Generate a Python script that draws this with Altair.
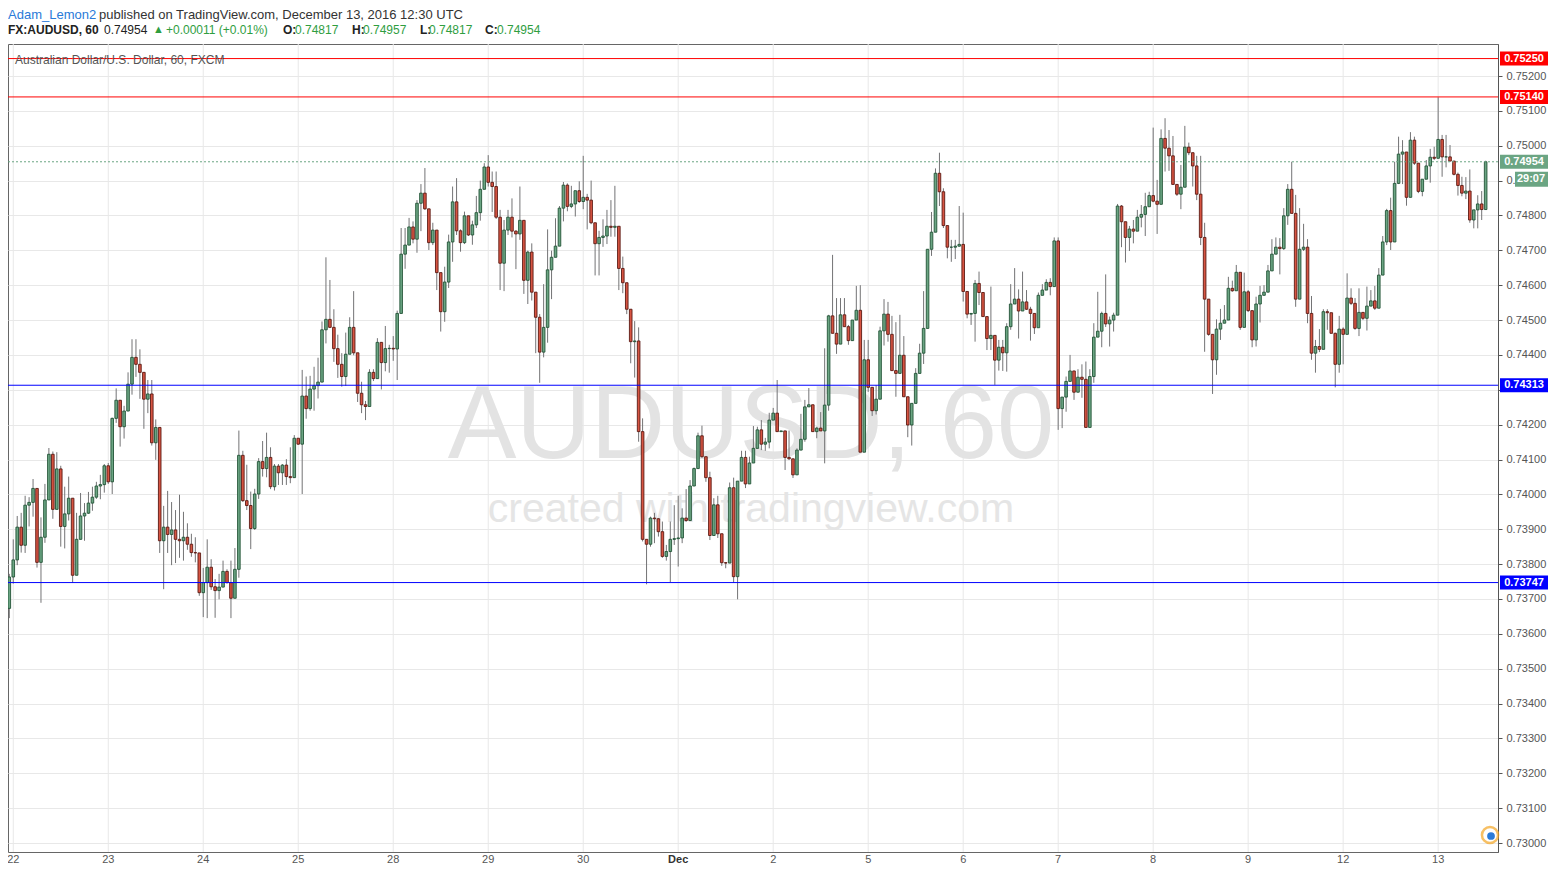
import altair as alt
import numpy as np
import pandas as pd

# ---------------- data ----------------
first_open = 0.73673
closes = [
    0.73763, 0.73812, 0.73906, 0.73854, 0.73969, 0.73977, 0.74017, 0.73805, 0.73877, 0.73984,
    0.74115, 0.73957, 0.74073, 0.73908, 0.73944, 0.73989, 0.73768, 0.73871, 0.73938, 0.73946,
    0.73975, 0.73992, 0.74024, 0.74028, 0.74082, 0.74036, 0.74218, 0.74270, 0.74194, 0.74239,
    0.74316, 0.74393, 0.74373, 0.74350, 0.74273, 0.74288, 0.74148, 0.74192, 0.73867, 0.73906,
    0.73885, 0.73898, 0.73871, 0.73867, 0.73877, 0.73857, 0.73833, 0.73832, 0.73718, 0.73747,
    0.73791, 0.73735, 0.73724, 0.73734, 0.73779, 0.73747, 0.73702, 0.73785, 0.74112, 0.73982,
    0.73968, 0.73902, 0.74001, 0.74094, 0.74074, 0.74106, 0.74022, 0.74081, 0.74062, 0.74084,
    0.74051, 0.74048, 0.74161, 0.74144, 0.74282, 0.74246, 0.74302, 0.74312, 0.74322, 0.74472,
    0.74502, 0.74479, 0.74418, 0.74373, 0.74338, 0.74402, 0.74479, 0.74406, 0.74290, 0.74257,
    0.74252, 0.74350, 0.74332, 0.74436, 0.74378, 0.74418, 0.74419, 0.74417, 0.74519, 0.74689,
    0.74715, 0.74767, 0.74732, 0.74835, 0.74864, 0.74819, 0.74722, 0.74758, 0.74636, 0.74524,
    0.74609, 0.74724, 0.74839, 0.74756, 0.74722, 0.74799, 0.74744, 0.74773, 0.74808, 0.74875,
    0.74939, 0.74895, 0.74883, 0.74795, 0.74663, 0.74758, 0.74795, 0.74755, 0.74747, 0.74786,
    0.74614, 0.74695, 0.74580, 0.74508, 0.74408, 0.74479, 0.74644, 0.74680, 0.74712, 0.74821,
    0.74887, 0.74826, 0.74833, 0.74871, 0.74840, 0.74852, 0.74844, 0.74779, 0.74719, 0.74737,
    0.74741, 0.74769, 0.74766, 0.74769, 0.74648, 0.74607, 0.74531, 0.74438, 0.74440, 0.74180,
    0.73871, 0.73857, 0.73932, 0.73930, 0.73893, 0.73822, 0.73836, 0.73871, 0.73873, 0.73875,
    0.73932, 0.73925, 0.74024, 0.74074, 0.74168, 0.74108, 0.74048, 0.73882, 0.73970, 0.73887,
    0.73804, 0.73803, 0.74019, 0.73764, 0.74038, 0.74106, 0.74030, 0.74090, 0.74132, 0.74185,
    0.74144, 0.74150, 0.74213, 0.74233, 0.74180, 0.74182, 0.74106, 0.74102, 0.74056, 0.74127,
    0.74158, 0.74251, 0.74257, 0.74180, 0.74190, 0.74182, 0.74256, 0.74512, 0.74462, 0.74431,
    0.74515, 0.74481, 0.74441, 0.74500, 0.74528, 0.74121, 0.74386, 0.74307, 0.74240, 0.74273,
    0.74469, 0.74517, 0.74459, 0.74355, 0.74347, 0.74399, 0.74280, 0.74199, 0.74261, 0.74347,
    0.74405, 0.74476, 0.74703, 0.74752, 0.74921, 0.74868, 0.74771, 0.74709, 0.74709, 0.74712,
    0.74717, 0.74582, 0.74517, 0.74519, 0.74605, 0.74579, 0.74510, 0.74447, 0.74456, 0.74385,
    0.74422, 0.74406, 0.74481, 0.74546, 0.74560, 0.74526, 0.74552, 0.74531, 0.74519, 0.74478,
    0.74571, 0.74586, 0.74608, 0.74596, 0.74727, 0.74246, 0.74279, 0.74324, 0.74354, 0.74293,
    0.74336, 0.74330, 0.74192, 0.74338, 0.74451, 0.74468, 0.74519, 0.74489, 0.74500, 0.74514,
    0.74827, 0.74782, 0.74737, 0.74761, 0.74755, 0.74795, 0.74803, 0.74825, 0.74857, 0.74841,
    0.74832, 0.75021, 0.74993, 0.74971, 0.74889, 0.74861, 0.74881, 0.74996, 0.74980, 0.74942,
    0.74861, 0.74737, 0.74560, 0.74459, 0.74386, 0.74474, 0.74491, 0.74500, 0.74591, 0.74584,
    0.74637, 0.74479, 0.74581, 0.74527, 0.74443, 0.74546, 0.74571, 0.74580, 0.74641, 0.74689,
    0.74709, 0.74705, 0.74799, 0.74875, 0.74806, 0.74560, 0.74703, 0.74709, 0.74519, 0.74405,
    0.74424, 0.74416, 0.74524, 0.74521, 0.74462, 0.74373, 0.74474, 0.74459, 0.74563, 0.74548,
    0.74476, 0.74522, 0.74505, 0.74540, 0.74555, 0.74534, 0.74629, 0.74724, 0.74814, 0.74724,
    0.74892, 0.74976, 0.74982, 0.74852, 0.75016, 0.74950, 0.74869, 0.74904, 0.74942, 0.74967,
    0.74964, 0.75018, 0.74968, 0.74968, 0.74956, 0.74918, 0.74886, 0.74864, 0.74870, 0.74787,
    0.74816, 0.74833, 0.74817, 0.74954,
]
highs = [
    0.73772, 0.73871, 0.73938, 0.73947, 0.73996, 0.73992, 0.74044, 0.74017, 0.73934, 0.74030,
    0.74133, 0.74123, 0.74121, 0.74082, 0.74022, 0.74051, 0.73989, 0.73947, 0.74004, 0.73975,
    0.74007, 0.74022, 0.74036, 0.74056, 0.74087, 0.74090, 0.74220, 0.74304, 0.74270, 0.74254,
    0.74350, 0.74445, 0.74445, 0.74416, 0.74350, 0.74328, 0.74328, 0.74215, 0.74192, 0.73967,
    0.74010, 0.73978, 0.73955, 0.73999, 0.73950, 0.73917, 0.73887, 0.73877, 0.73832, 0.73789,
    0.73871, 0.73814, 0.73757, 0.73772, 0.73810, 0.73785, 0.73810, 0.73846, 0.74183, 0.74125,
    0.74085, 0.74008, 0.74016, 0.74104, 0.74153, 0.74177, 0.74135, 0.74087, 0.74087, 0.74087,
    0.74101, 0.74135, 0.74170, 0.74161, 0.74357, 0.74338, 0.74340, 0.74366, 0.74392, 0.74496,
    0.74680, 0.74615, 0.74531, 0.74458, 0.74405, 0.74464, 0.74508, 0.74583, 0.74406, 0.74323,
    0.74268, 0.74359, 0.74359, 0.74448, 0.74437, 0.74483, 0.74429, 0.74454, 0.74527, 0.74764,
    0.74764, 0.74793, 0.74783, 0.74844, 0.74890, 0.74936, 0.74819, 0.74779, 0.74758, 0.74636,
    0.74653, 0.74745, 0.74883, 0.74907, 0.74760, 0.74811, 0.74799, 0.74785, 0.74856, 0.74900,
    0.74950, 0.74973, 0.74926, 0.74926, 0.74816, 0.74787, 0.74816, 0.74849, 0.74758, 0.74883,
    0.74786, 0.74699, 0.74720, 0.74580, 0.74517, 0.74603, 0.74760, 0.74699, 0.74792, 0.74827,
    0.74896, 0.74892, 0.74885, 0.74871, 0.74898, 0.74971, 0.74862, 0.74900, 0.74779, 0.74756,
    0.74789, 0.74816, 0.74844, 0.74885, 0.74769, 0.74682, 0.74607, 0.74531, 0.74497, 0.74479,
    0.74218, 0.73871, 0.73936, 0.73947, 0.73932, 0.73922, 0.73855, 0.73922, 0.73969, 0.73996,
    0.73960, 0.74015, 0.74041, 0.74077, 0.74177, 0.74197, 0.74108, 0.74065, 0.73989, 0.73996,
    0.73887, 0.73806, 0.74034, 0.74048, 0.74038, 0.74125, 0.74125, 0.74108, 0.74196, 0.74194,
    0.74213, 0.74162, 0.74234, 0.74248, 0.74328, 0.74182, 0.74182, 0.74183, 0.74102, 0.74132,
    0.74231, 0.74271, 0.74305, 0.74257, 0.74194, 0.74236, 0.74419, 0.74515, 0.74687, 0.74563,
    0.74563, 0.74563, 0.74486, 0.74500, 0.74598, 0.74600, 0.74443, 0.74443, 0.74307, 0.74313,
    0.74481, 0.74560, 0.74552, 0.74512, 0.74494, 0.74515, 0.74454, 0.74280, 0.74261, 0.74362,
    0.74432, 0.74583, 0.74703, 0.74810, 0.74935, 0.74980, 0.74878, 0.74771, 0.74730, 0.74730,
    0.74827, 0.74808, 0.74582, 0.74520, 0.74615, 0.74639, 0.74579, 0.74510, 0.74596, 0.74456,
    0.74443, 0.74443, 0.74491, 0.74603, 0.74649, 0.74588, 0.74639, 0.74586, 0.74538, 0.74519,
    0.74579, 0.74603, 0.74617, 0.74620, 0.74737, 0.74737, 0.74279, 0.74338, 0.74400, 0.74354,
    0.74359, 0.74373, 0.74381, 0.74359, 0.74491, 0.74581, 0.74524, 0.74631, 0.74510, 0.74521,
    0.74833, 0.74830, 0.74782, 0.74770, 0.74787, 0.74816, 0.74830, 0.74865, 0.74868, 0.75052,
    0.74902, 0.75047, 0.75079, 0.75045, 0.75028, 0.74889, 0.74945, 0.75057, 0.75009, 0.74980,
    0.74971, 0.74971, 0.74779, 0.74560, 0.74459, 0.74502, 0.74532, 0.74543, 0.74624, 0.74613,
    0.74658, 0.74637, 0.74636, 0.74586, 0.74527, 0.74567, 0.74598, 0.74600, 0.74658, 0.74732,
    0.74737, 0.74735, 0.74821, 0.74890, 0.74954, 0.74859, 0.74821, 0.74776, 0.74732, 0.74569,
    0.74443, 0.74474, 0.74531, 0.74531, 0.74521, 0.74464, 0.74512, 0.74479, 0.74634, 0.74591,
    0.74563, 0.74591, 0.74522, 0.74596, 0.74586, 0.74598, 0.74649, 0.74741, 0.74819, 0.74851,
    0.74954, 0.75026, 0.75016, 0.74982, 0.75039, 0.75026, 0.74950, 0.74904, 0.74959, 0.74991,
    0.74997, 0.75139, 0.75031, 0.75031, 0.75002, 0.74956, 0.74923, 0.74911, 0.74910, 0.74932,
    0.74816, 0.74858, 0.74870, 0.74957,
]
lows = [
    0.73645, 0.73744, 0.73797, 0.73833, 0.73832, 0.73908, 0.73936, 0.73790, 0.73689, 0.73861,
    0.73984, 0.73930, 0.73957, 0.73850, 0.73845, 0.73925, 0.73746, 0.73768, 0.73871, 0.73867,
    0.73944, 0.73953, 0.73987, 0.73986, 0.74005, 0.74030, 0.74001, 0.74205, 0.74137, 0.74160,
    0.74239, 0.74286, 0.74337, 0.74274, 0.74188, 0.74233, 0.74140, 0.74099, 0.73832, 0.73728,
    0.73832, 0.73797, 0.73803, 0.73818, 0.73810, 0.73841, 0.73821, 0.73805, 0.73709, 0.73648,
    0.73645, 0.73726, 0.73646, 0.73699, 0.73734, 0.73744, 0.73645, 0.73702, 0.73761, 0.73978,
    0.73955, 0.73843, 0.73898, 0.73987, 0.74051, 0.74049, 0.74015, 0.74011, 0.74027, 0.74027,
    0.74027, 0.74032, 0.74047, 0.74142, 0.74001, 0.74217, 0.74240, 0.74240, 0.74275, 0.74322,
    0.74433, 0.74477, 0.74380, 0.74334, 0.74309, 0.74311, 0.74402, 0.74399, 0.74265, 0.74233,
    0.74213, 0.74252, 0.74325, 0.74332, 0.74301, 0.74353, 0.74349, 0.74383, 0.74328, 0.74519,
    0.74647, 0.74715, 0.74720, 0.74693, 0.74755, 0.74816, 0.74701, 0.74715, 0.74586, 0.74467,
    0.74495, 0.74592, 0.74667, 0.74744, 0.74696, 0.74718, 0.74741, 0.74716, 0.74764, 0.74785,
    0.74875, 0.74883, 0.74810, 0.74790, 0.74586, 0.74583, 0.74744, 0.74737, 0.74646, 0.74730,
    0.74575, 0.74546, 0.74556, 0.74405, 0.74320, 0.74393, 0.74435, 0.74560, 0.74680, 0.74712,
    0.74783, 0.74812, 0.74821, 0.74797, 0.74836, 0.74818, 0.74760, 0.74775, 0.74628, 0.74628,
    0.74710, 0.74718, 0.74739, 0.74739, 0.74586, 0.74577, 0.74517, 0.74376, 0.74335, 0.74151,
    0.73865, 0.73742, 0.73850, 0.73860, 0.73879, 0.73818, 0.73810, 0.73748, 0.73855, 0.73793,
    0.73860, 0.73921, 0.73925, 0.74024, 0.74074, 0.74105, 0.74036, 0.73869, 0.73882, 0.73875,
    0.73795, 0.73788, 0.73803, 0.73746, 0.73699, 0.74038, 0.74018, 0.74030, 0.74090, 0.74132,
    0.74127, 0.74125, 0.74132, 0.74213, 0.74180, 0.74179, 0.74070, 0.74099, 0.74047, 0.74056,
    0.74127, 0.74151, 0.74251, 0.74179, 0.74161, 0.74182, 0.74089, 0.74240, 0.74462, 0.74403,
    0.74431, 0.74481, 0.74429, 0.74441, 0.74500, 0.74121, 0.74121, 0.74294, 0.74225, 0.74229,
    0.74273, 0.74427, 0.74438, 0.74355, 0.74280, 0.74347, 0.74280, 0.74164, 0.74140, 0.74261,
    0.74347, 0.74374, 0.74476, 0.74684, 0.74752, 0.74827, 0.74764, 0.74677, 0.74667, 0.74675,
    0.74710, 0.74553, 0.74505, 0.74486, 0.74438, 0.74543, 0.74510, 0.74414, 0.74414, 0.74314,
    0.74355, 0.74354, 0.74352, 0.74472, 0.74546, 0.74447, 0.74526, 0.74529, 0.74441, 0.74460,
    0.74478, 0.74571, 0.74586, 0.74571, 0.74596, 0.74185, 0.74190, 0.74237, 0.74324, 0.74271,
    0.74293, 0.74277, 0.74192, 0.74192, 0.74320, 0.74451, 0.74422, 0.74480, 0.74424, 0.74467,
    0.74514, 0.74709, 0.74665, 0.74698, 0.74720, 0.74755, 0.74766, 0.74741, 0.74825, 0.74838,
    0.74747, 0.74832, 0.74926, 0.74928, 0.74889, 0.74856, 0.74818, 0.74881, 0.74973, 0.74883,
    0.74844, 0.74715, 0.74409, 0.74455, 0.74288, 0.74343, 0.74443, 0.74491, 0.74500, 0.74581,
    0.74584, 0.74472, 0.74479, 0.74523, 0.74422, 0.74424, 0.74493, 0.74571, 0.74580, 0.74641,
    0.74689, 0.74631, 0.74701, 0.74773, 0.74806, 0.74538, 0.74560, 0.74698, 0.74491, 0.74386,
    0.74349, 0.74408, 0.74416, 0.74472, 0.74462, 0.74307, 0.74349, 0.74373, 0.74459, 0.74543,
    0.74472, 0.74454, 0.74500, 0.74470, 0.74540, 0.74529, 0.74535, 0.74629, 0.74715, 0.74701,
    0.74724, 0.74890, 0.74890, 0.74828, 0.74852, 0.74945, 0.74864, 0.74855, 0.74904, 0.74894,
    0.74959, 0.74964, 0.74911, 0.74938, 0.74956, 0.74915, 0.74857, 0.74855, 0.74847, 0.74779,
    0.74763, 0.74763, 0.74787, 0.74817,
]

day_labels = ["22", "23", "24", "25", "28", "29", "30", "Dec",
              "2", "5", "6", "7", "8", "9", "12", "13"]
day_bars = [1, 25, 49, 73, 97, 121, 145, 169, 193, 217, 241, 265, 289, 313, 337, 361]

price_ticks = [0.730, 0.731, 0.732, 0.733, 0.734, 0.735, 0.736, 0.737, 0.738, 0.739,
               0.740, 0.741, 0.742, 0.743, 0.744, 0.745, 0.746, 0.747, 0.748, 0.749,
               0.750, 0.751, 0.752]

level_prices = [0.75250, 0.75140, 0.74313, 0.73747]
level_names = ["0.75250", "0.75140", "0.74313", "0.73747"]
level_colors = ["#ff0000", "#ff0000", "#0000ff", "#0000ff"]
last_price = 0.74954
countdown = "29:07"

# ---------------- table ----------------
n = min(len(closes), len(highs), len(lows))
closes, highs, lows = closes[:n], highs[:n], lows[:n]
opens = [first_open] + closes[:-1]
df = pd.DataFrame({"i": list(range(n)), "open": opens, "close": closes,
                   "high": highs, "low": lows})
df["high"] = df[["high", "open", "close"]].max(axis=1)
df["low"] = df[["low", "open", "close"]].min(axis=1)
df["dir"] = np.where(df["close"] >= df["open"], "up", "down")

days = pd.DataFrame({"i": day_bars, "label": day_labels})
levels = pd.DataFrame({"price": level_prices, "label": level_names, "c": level_colors})
lastdf = pd.DataFrame({"price": [last_price], "label": [f"{last_price:.5f}"], "cd": [countdown]})

W, H = 1490, 808
FONT = "Liberation Sans"
xs = alt.Scale(domain=[-0.33, 376.12], nice=False, zero=False, padding=0)
ys = alt.Scale(domain=[0.729742, 0.752918], nice=False, zero=False, padding=0)
# tick labels that sit under the price boxes: 0.743 is fully hidden, 0.749 shows only "0."
yax = alt.Axis(orient="right", values=price_ticks, format=".5f", grid=True,
               gridColor="#e8e8e8", gridWidth=1, domainColor="#555555",
               tickColor="#555555", tickSize=4, labelPadding=4,
               labelColor="#555555", labelFontSize=11, labelFont=FONT,
               labelExpr="abs(datum.value - 0.743) < 0.0001 ? '' : (abs(datum.value - 0.749) < 0.0001 ? '0.' : datum.label)",
               title=None, labelOverlap=False, labelFlush=False)
X = lambda f: alt.X(f, scale=xs, axis=None)
Y = lambda f: alt.Y(f, scale=ys, axis=yax)

one = pd.DataFrame({"k": [0]})


def txt(s, x, y, color="#333333", size=13, weight="normal", align="left", font=FONT):
    return alt.Chart(one).mark_text(
        align=align, baseline="middle", fontSize=size, fontWeight=weight,
        color=color, font=font
    ).encode(x=alt.value(x), y=alt.value(y), text=alt.value(s))


vgrid = alt.Chart(days).mark_rule(color="#e8e8e8", strokeWidth=1).encode(x=X("i:Q"))

wm1 = txt("AUDUSD, 60", W / 2 - 2, 383, color="#e3e3e3", size=103, align="center")
wm2 = txt("created with tradingview.com", W / 2 - 2, 466, color="#e5e5e5", size=41, align="center")

wicks = alt.Chart(df).mark_rule(color="#737375", strokeWidth=1).encode(
    x=X("i:Q"), y=Y("low:Q"), y2="high:Q")

bodies = alt.Chart(df).mark_bar(size=2.6, strokeWidth=0.9).encode(
    x=X("i:Q"), y=Y("open:Q"), y2="close:Q",
    fill=alt.Fill("dir:N", scale=alt.Scale(domain=["up", "down"], range=["#6ba583", "#d75442"]), legend=None),
    stroke=alt.Stroke("dir:N", scale=alt.Scale(domain=["up", "down"], range=["#225437", "#5b1a13"]), legend=None),
)

lvl_rules = alt.Chart(levels).mark_rule(strokeWidth=1).encode(
    y=Y("price:Q"), color=alt.Color("c:N", scale=None))

last_rule = alt.Chart(lastdf).mark_rule(strokeWidth=1, strokeDash=[2, 2], color="#6ba583").encode(
    y=Y("price:Q"))

lvl_boxes = alt.Chart(levels).mark_rect(yOffset=-7, y2Offset=7).encode(
    x=alt.value(W + 2), x2=alt.value(W + 51), y=Y("price:Q"), y2="price:Q",
    color=alt.Color("c:N", scale=None))
lvl_text = alt.Chart(levels).mark_text(color="white", fontWeight="bold", fontSize=11,
                                       font=FONT, align="center", baseline="middle").encode(
    x=alt.value(W + 26), y=Y("price:Q"), text="label:N")

last_box = alt.Chart(lastdf).mark_rect(yOffset=-7, y2Offset=7, color="#6ba583").encode(
    x=alt.value(W + 2), x2=alt.value(W + 51), y=Y("price:Q"), y2="price:Q")
last_text = alt.Chart(lastdf).mark_text(color="white", fontWeight="bold", fontSize=11,
                                        font=FONT, align="center", baseline="middle").encode(
    x=alt.value(W + 26), y=Y("price:Q"), text="label:N")
cd_box = alt.Chart(lastdf).mark_rect(yOffset=10, y2Offset=25, color="#6ba583").encode(
    x=alt.value(W + 17), x2=alt.value(W + 51), y=Y("price:Q"), y2="price:Q")
cd_text = alt.Chart(lastdf).mark_text(color="white", fontWeight="bold", fontSize=11, dy=17,
                                      font=FONT, align="center", baseline="middle").encode(
    x=alt.value(W + 33), y=Y("price:Q"), text="cd:N")

day_txt = alt.Chart(days[days["label"] != "Dec"]).mark_text(
    fontSize=11, color="#555555", font=FONT, baseline="middle", align="center").encode(
    x=X("i:Q"), y=alt.value(H + 8), text="label:N")
dec_txt = alt.Chart(days[days["label"] == "Dec"]).mark_text(
    fontSize=11, color="#333333", fontWeight="bold", font=FONT, baseline="middle", align="center").encode(
    x=X("i:Q"), y=alt.value(H + 8), text="label:N")

sym = txt("Australian Dollar/U.S. Dollar, 60, FXCM", 7, 16, color="#555555", size=12)

logo_ring = alt.Chart(one).mark_point(shape="circle", size=260, filled=False,
                                      stroke="#f5a623", strokeWidth=2.5).encode(
    x=alt.value(W - 8), y=alt.value(H - 17))
logo_dot = alt.Chart(one).mark_point(shape="circle", size=60, filled=True,
                                     color="#2a7ad8", opacity=1).encode(
    x=alt.value(W - 7), y=alt.value(H - 16))

GREEN = "#2f9e3f"
L1, L2 = -29, -14
hdr = [
    txt("Adam_Lemon2", 0, L1, color="#2a7ad8", size=13),
    txt("published on TradingView.com, December 13, 2016 12:30 UTC", 91, L1, color="#333333", size=13),
    txt("FX:AUDUSD, 60", 0, L2, color="#222222", size=12, weight="bold"),
    txt("0.74954", 96, L2, color="#222222", size=12),
    txt("\u25b2", 145, L2, color=GREEN, size=11),
    txt("+0.00011 (+0.01%)", 158, L2, color=GREEN, size=12),
    txt("O:", 275, L2, color="#222222", size=12, weight="bold"),
    txt("0.74817", 287, L2, color=GREEN, size=12),
    txt("H:", 344, L2, color="#222222", size=12, weight="bold"),
    txt("0.74957", 355, L2, color=GREEN, size=12),
    txt("L:", 412, L2, color="#222222", size=12, weight="bold"),
    txt("0.74817", 421, L2, color=GREEN, size=12),
    txt("C:", 477, L2, color="#222222", size=12, weight="bold"),
    txt("0.74954", 489, L2, color=GREEN, size=12),
]

chart = alt.layer(
    vgrid, wm1, wm2, wicks, bodies, lvl_rules, last_rule,
    lvl_boxes, lvl_text, last_box, last_text, cd_box, cd_text,
    day_txt, dec_txt, sym, logo_ring, logo_dot, *hdr
).properties(
    width=W, height=H,
    padding={"left": 0, "top": 36, "right": 50, "bottom": 14},
    autosize=alt.AutoSizeParams(type="none"),
    background="white",
).configure_view(stroke="#666666", strokeWidth=1)

chart.save("out.html", embed_options={"renderer": "svg", "actions": False})
